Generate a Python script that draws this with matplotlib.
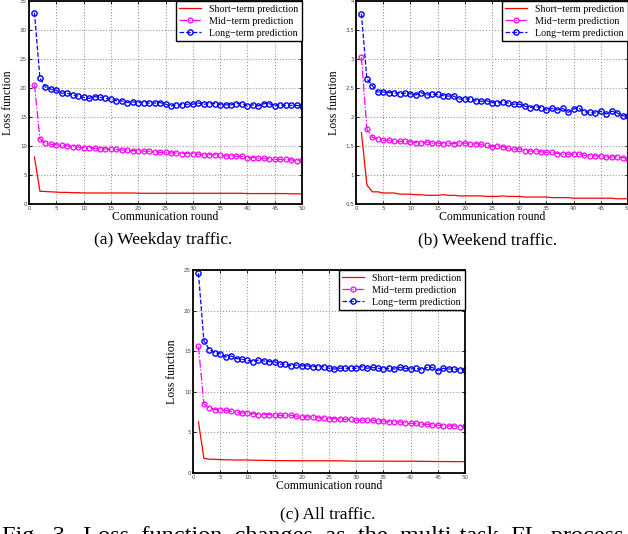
import numpy as np
import matplotlib
matplotlib.use("Agg")
import matplotlib.pyplot as plt

plt.rcParams['font.family'] = 'serif'
plt.rcParams['font.serif'] = ['Liberation Serif', 'DejaVu Serif']

rounds = np.arange(1, 51)

# (a) weekday traffic
weekday_short = [8.1, 2.2, 2.15, 2.1, 2.05, 2.0, 2.0, 1.95, 1.95, 1.9,
                 1.9, 1.9, 1.9, 1.9, 1.9, 1.9, 1.9, 1.9, 1.9, 1.85,
                 1.85, 1.85, 1.85, 1.85, 1.85, 1.85, 1.85, 1.85, 1.85, 1.85,
                 1.85, 1.85, 1.85, 1.85, 1.85, 1.85, 1.85, 1.85, 1.85, 1.8,
                 1.8, 1.8, 1.8, 1.8, 1.8, 1.8, 1.8, 1.75, 1.75, 1.75]
weekday_mid = [20.6, 11.2, 10.5, 10.3, 10.2, 10.1, 10.0, 9.9, 9.8, 9.7,
               9.7, 9.6, 9.5, 9.5, 9.4, 9.4, 9.3, 9.3, 9.2, 9.2,
               9.1, 9.1, 9.0, 8.9, 8.9, 8.8, 8.8, 8.7, 8.7, 8.7,
               8.6, 8.5, 8.5, 8.5, 8.4, 8.3, 8.3, 8.2, 8.2, 8.0,
               8.0, 7.9, 7.9, 7.8, 7.7, 7.7, 7.7, 7.6, 7.5, 7.6]
weekday_long = [33.0, 21.7, 20.2, 19.8, 19.6, 19.1, 19.1, 18.8, 18.6, 18.4,
                18.2, 18.5, 18.4, 18.2, 18.1, 17.8, 17.8, 17.5, 17.6, 17.5,
                17.5, 17.4, 17.4, 17.5, 17.2, 16.9, 17.1, 17.1, 17.2, 17.2,
                17.4, 17.2, 17.3, 17.3, 17.1, 17.1, 17.1, 17.3, 17.3, 16.9,
                17.1, 16.9, 17.3, 17.3, 16.9, 17.1, 17.0, 17.0, 17.0, 16.9]

# (b) weekend traffic
weekend_short = [1.73, 0.83, 0.71, 0.71, 0.69, 0.69, 0.69, 0.67, 0.67, 0.67,
                 0.66, 0.66, 0.65, 0.65, 0.65, 0.66, 0.65, 0.65, 0.64, 0.64,
                 0.64, 0.64, 0.64, 0.63, 0.63, 0.63, 0.64, 0.63, 0.63, 0.63,
                 0.62, 0.62, 0.62, 0.62, 0.62, 0.61, 0.61, 0.61, 0.61, 0.60,
                 0.60, 0.60, 0.60, 0.60, 0.60, 0.60, 0.60, 0.59, 0.59, 0.59]
weekend_mid = [3.03, 1.79, 1.65, 1.62, 1.60, 1.60, 1.58, 1.58, 1.58, 1.57,
               1.56, 1.55, 1.57, 1.55, 1.55, 1.54, 1.55, 1.54, 1.55, 1.55,
               1.53, 1.54, 1.53, 1.51, 1.49, 1.50, 1.49, 1.46, 1.44, 1.45,
               1.42, 1.41, 1.42, 1.40, 1.39, 1.39, 1.37, 1.36, 1.36, 1.36,
               1.36, 1.34, 1.33, 1.33, 1.33, 1.31, 1.31, 1.31, 1.30, 1.28]
weekend_long = [3.78, 2.66, 2.54, 2.43, 2.43, 2.42, 2.42, 2.40, 2.41, 2.40,
                2.38, 2.42, 2.38, 2.39, 2.39, 2.37, 2.36, 2.36, 2.31, 2.31,
                2.31, 2.28, 2.27, 2.28, 2.25, 2.24, 2.26, 2.24, 2.22, 2.22,
                2.19, 2.16, 2.18, 2.16, 2.12, 2.15, 2.12, 2.15, 2.08, 2.14,
                2.15, 2.09, 2.08, 2.07, 2.10, 2.05, 2.10, 2.07, 2.02, 2.01]

# (c) all traffic
all_short = [6.3, 1.8, 1.7, 1.68, 1.65, 1.63, 1.62, 1.6, 1.6, 1.6,
             1.58, 1.57, 1.56, 1.55, 1.53, 1.52, 1.52, 1.52, 1.51, 1.51,
             1.5, 1.5, 1.5, 1.5, 1.5, 1.5, 1.5, 1.49, 1.47, 1.46,
             1.46, 1.46, 1.46, 1.46, 1.46, 1.45, 1.45, 1.45, 1.45, 1.45,
             1.45, 1.44, 1.43, 1.42, 1.41, 1.41, 1.41, 1.4, 1.4, 1.4]
all_mid = [15.6, 8.5, 8.0, 7.8, 7.8, 7.7, 7.6, 7.5, 7.4, 7.4,
           7.3, 7.2, 7.2, 7.2, 7.1, 7.1, 7.1, 7.1, 7.0, 6.9,
           6.9, 6.9, 6.8, 6.8, 6.7, 6.7, 6.7, 6.6, 6.6, 6.5,
           6.5, 6.5, 6.5, 6.4, 6.4, 6.3, 6.3, 6.3, 6.2, 6.1,
           6.1, 6.0, 6.0, 5.9, 5.9, 5.8, 5.8, 5.8, 5.7, 5.8]
all_long = [24.6, 16.3, 15.2, 14.8, 14.7, 14.3, 14.4, 14.1, 14.0, 13.9,
            13.7, 13.9, 13.8, 13.7, 13.7, 13.4, 13.4, 13.2, 13.3, 13.2,
            13.2, 13.1, 13.1, 13.1, 12.9, 12.8, 12.9, 12.9, 12.9, 12.9,
            13.1, 12.9, 13.0, 12.9, 12.8, 12.9, 12.8, 13.0, 12.9, 12.8,
            12.9, 12.7, 13.0, 13.0, 12.6, 12.9, 12.8, 12.8, 12.7, 12.7]

labels = ['Short\u2212term prediction', 'Mid\u2212term prediction', 'Long\u2212term prediction']
xticks = list(range(0, 51, 5))


def draw_panel(ax, short, mid, long_, yticks, ytick_labels):
    ax.plot(rounds, short, '-', color='red', lw=0.9, label=labels[0])
    ax.plot(rounds, mid, '-.', color='magenta', lw=0.9, marker='o', ms=3.5,
            mfc='none', mew=0.9, label=labels[1])
    ax.plot(rounds, long_, '--', color='blue', lw=0.9, marker='o', ms=3.8,
            mfc='none', mew=1.0, label=labels[2])
    ax.set_xlim(0, 50)
    ax.set_ylim(yticks[0], yticks[-1])
    ax.set_xticks(xticks)
    ax.set_xticklabels([str(t) for t in xticks], fontsize=4, family='DejaVu Sans', color='#444444')
    ax.set_yticks(yticks)
    ax.set_yticklabels(ytick_labels, fontsize=4, family='DejaVu Sans', color='#444444')
    ax.tick_params(direction='in', length=2, width=0.6, pad=1.5, top=True, right=True)
    ax.grid(True, ls=':', color='#999999', lw=0.8)
    for sp in ax.spines.values():
        sp.set_linewidth(1.3)
    ax.set_xlabel('Communication round', fontsize=8.5, labelpad=0)
    ax.set_ylabel('Loss function', fontsize=8.5, labelpad=4)
    leg = ax.legend(loc='upper right', fontsize=7.2, fancybox=False, framealpha=1,
                    edgecolor='black', borderaxespad=0, handlelength=2.2,
                    labelspacing=0.3, borderpad=0.35)
    leg.get_frame().set_linewidth(1.0)


fig = plt.figure(figsize=(6.28, 5.34), dpi=100)
W, H = 628.0, 534.0

ax_a = fig.add_axes([29 / W, 1 - 204 / H, 273 / W, 203 / H])
draw_panel(ax_a, weekday_short, weekday_mid, weekday_long,
           list(range(0, 36, 5)), [str(t) for t in range(0, 36, 5)])

ax_b = fig.add_axes([356 / W, 1 - 204 / H, 272 / W, 203 / H])
yb = [0.5, 1, 1.5, 2, 2.5, 3, 3.5, 4]
draw_panel(ax_b, weekend_short, weekend_mid, weekend_long,
           yb, ['0.5', '1', '1.5', '2', '2.5', '3', '3.5', '4'])

ax_c = fig.add_axes([193 / W, 1 - 473 / H, 272 / W, 203 / H])
draw_panel(ax_c, all_short, all_mid, all_long,
           list(range(0, 26, 5)), [str(t) for t in range(0, 26, 5)])

fig.text(163 / W, 1 - 240 / H, '(a) Weekday traffic.', fontsize=12.5, ha='center', va='center')
fig.text(488 / W, 1 - 240 / H, '(b) Weekend traffic.', fontsize=12.5, ha='center', va='center')
fig.text(328 / W, 1 - 514 / H, '(c) All traffic.', fontsize=12.5, ha='center', va='center')
fig.text(2 / W, 1 - 526 / H, 'Fig.  3.  Loss  function  changes  as  the  multi-task  FL  process',
         fontsize=17.5, ha='left', va='top')

fig.savefig('out.png', dpi=100)
